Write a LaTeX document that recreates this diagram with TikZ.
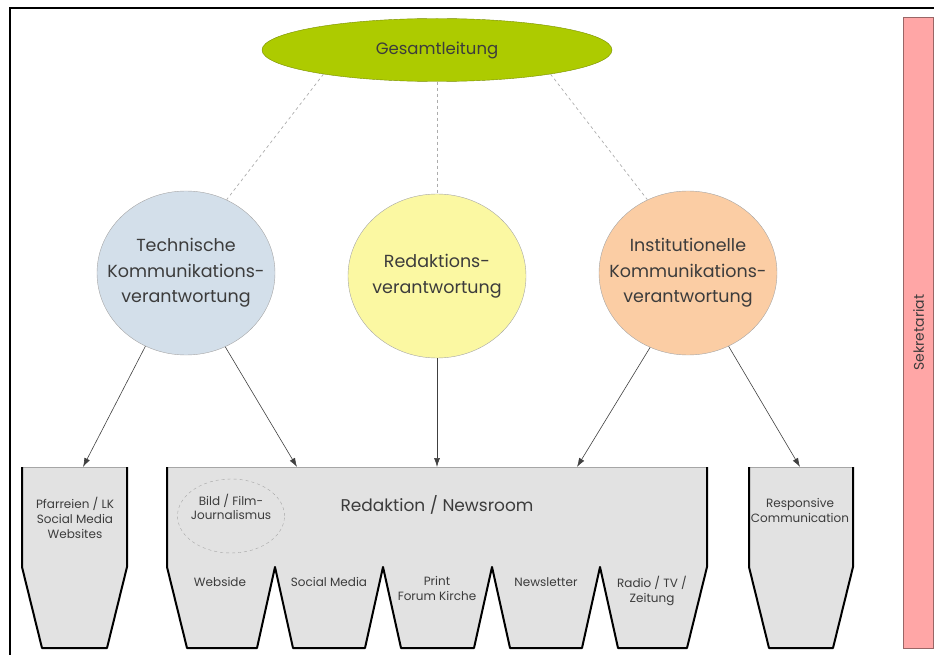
\documentclass[tikz,border=0pt]{standalone}
\usepackage{fontspec}
\setmainfont{Poppins}
\usepackage{xcolor}
\usetikzlibrary{shapes,arrows.meta,positioning,calc}

\definecolor{leadgreen}{HTML}{ADCB00}
\definecolor{techblue}{HTML}{D3DFEA}
\definecolor{redyellow}{HTML}{FBF8A2}
\definecolor{instorange}{HTML}{FBCDA4}
\definecolor{silogray}{HTML}{E2E2E2}
\definecolor{sekpink}{HTML}{FFA6A6}
\definecolor{txtgray}{HTML}{3C3C3C}

\begin{document}
\begin{tikzpicture}[x=1pt, y=-1pt,
    lead/.style={ellipse, draw=leadgreen!70!black, fill=leadgreen, minimum width=350pt, minimum height=63pt, inner sep=0pt, text=txtgray, font=\fontsize{16.5}{19}\selectfont},
    role/.style={ellipse, draw=gray!70, thin, minimum width=178pt, minimum height=164pt, inner sep=0pt},
    roletxt/.style={align=center, text=txtgray, inner sep=0pt, font=\fontsize{17.5}{25.5}\selectfont},
    lbl/.style={align=center, text=txtgray, inner sep=0pt, font=\fontsize{12}{15}\selectfont},
    wall/.style={line width=2pt, black, line join=round},
    dashlink/.style={dashed, gray!65, line width=0.7pt},
    arrowlink/.style={-{Latex[length=9pt,width=6pt]}, black!75, line width=0.6pt}
]
\useasboundingbox (0,0) rectangle (934,655);

% frame
\draw[line width=2pt] (10,655) -- (10,8) -- (934,8);

% sekretariat
\node[rectangle, draw=gray!80!red, fill=sekpink, minimum width=30pt, minimum height=631pt, inner sep=0pt] (sek) at (918.5,332.5) {};
\node[rotate=90, lbl, font=\fontsize{14}{16}\selectfont] at (sek.center) {Sekretariat};

% top level
\node[lead] (gesamt) at (437,50) {Gesamtleitung};

\node[role, fill=techblue] (tech) at (186,273) {};
\node[roletxt] at (tech.center) {Technische\\Kommunikations-\\verantwortung};
\node[role, fill=redyellow] (red) at (437,276) {};
\node[roletxt] at (red.center) {Redaktions-\\verantwortung};
\node[role, fill=instorange] (inst) at (688,273) {};
\node[roletxt] at (inst.center) {Institutionelle\\Kommunikations-\\verantwortung};

\draw[dashlink] (gesamt.192) -- (tech.61);
\draw[dashlink] (gesamt.south) -- (red.north);
\draw[dashlink] (gesamt.348) -- (inst.119);

% silos
\fill[silogray] (22,467) -- (127,467) -- (127,567) -- (107,648) -- (42,648) -- (22,567) -- cycle;
\draw[gray!70] (22,467) -- (127,467);
\draw[wall] (22,467) -- (22,567) -- (42,648) -- (107,648) -- (127,567) -- (127,467);

\fill[silogray] (167,467) -- (707,467) -- (707,567) -- (687,648) -- (618,648) -- (600,567) -- (582,648) -- (510,648) -- (492,567) -- (474,648) -- (401,648) -- (383,567) -- (365,648) -- (293,648) -- (275,567) -- (257,648) -- (187,648) -- (167,567) -- cycle;
\draw[gray!70] (167,467) -- (707,467);
\draw[wall] (167,467) -- (167,567) -- (187,648) -- (257,648) -- (275,567) -- (293,648) -- (365,648) -- (383,567) -- (401,648) -- (474,648) -- (492,567) -- (510,648) -- (582,648) -- (600,567) -- (618,648) -- (687,648) -- (707,567) -- (707,467);

\fill[silogray] (749,467) -- (853,467) -- (853,567) -- (833,648) -- (769,648) -- (749,567) -- cycle;
\draw[gray!70] (749,467) -- (853,467);
\draw[wall] (749,467) -- (749,567) -- (769,648) -- (833,648) -- (853,567) -- (853,467);

\coordinate (pf_in) at (83,467);
\coordinate (news_in_a) at (297,467);
\coordinate (news_in_b) at (437,467);
\coordinate (news_in_c) at (577,467);
\coordinate (resp_in) at (800,467);

\draw[arrowlink] (tech.241) -- (pf_in);
\draw[arrowlink] (tech.298) -- (news_in_a);
\draw[arrowlink] (red.south) -- (news_in_b);
\draw[arrowlink] (inst.243) -- (news_in_c);
\draw[arrowlink] (inst.299) -- (resp_in);

% silo labels
\node[lbl] (pf) at (75,518) {Pfarreien / LK\\Social Media\\Websites};
\node[draw=gray!70, dashed, ellipse, minimum width=107pt, minimum height=74pt, inner sep=0pt] (bild) at (231,516) {};
\node[lbl, font=\fontsize{12}{14}\selectfont] (bildtxt) at (231,507) {Bild / Film-\\Journalismus};
\node[lbl, font=\fontsize{17}{20}\selectfont] (news) at (437,505) {Redaktion / Newsroom};
\node[lbl] (web) at (220,582) {Webside};
\node[lbl] (social) at (329,582) {Social Media};
\node[lbl, anchor=north] (print) at (437,576) {Print\\Forum Kirche};
\node[lbl] (letter) at (546,582) {Newsletter};
\node[lbl, anchor=north] (radio) at (652,576) {Radio / TV /\\Zeitung};
\node[lbl] (resp) at (800,510) {Responsive\\Communication};

\end{tikzpicture}
\end{document}
